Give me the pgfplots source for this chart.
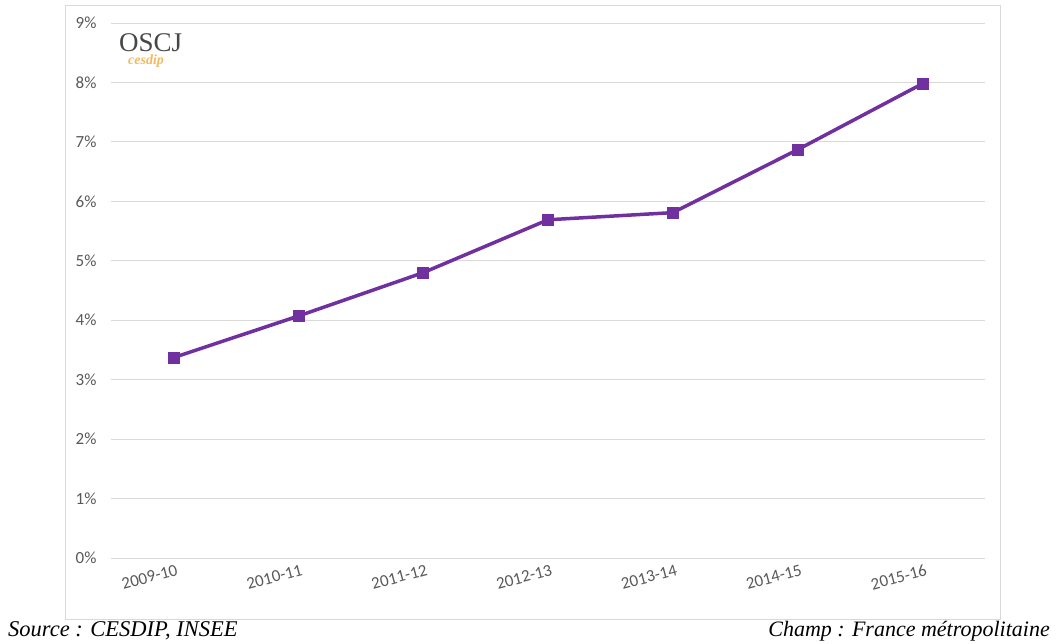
\documentclass[border=0pt]{standalone}
\usepackage{pgfplots}
\pgfplotsset{compat=1.18}
\usepackage{fontspec}
\setmainfont{Carlito}
\newfontfamily\timesf{Liberation Serif}
\definecolor{linecol}{HTML}{7030A0}
\definecolor{gridc}{HTML}{D9D9D9}
\definecolor{tickc}{HTML}{595959}
\definecolor{logoor}{HTML}{F4B860}
\begin{document}
\begin{tikzpicture}[x=1pt,y=1pt]
\path[use as bounding box] (0,0) rectangle (1057,643);
\draw[gridc, line width=1pt] (65,24) rectangle (1000,637);
\begin{axis}[
  at={(111pt,85pt)}, anchor=south west,
  scale only axis, width=874pt, height=535pt,
  xmin=-0.5, xmax=6.5, ymin=0, ymax=9,
  xtick={0,...,6},
  xticklabels={2009-10,2010-11,2011-12,2012-13,2013-14,2014-15,2015-16},
  ytick={0,...,9},
  yticklabel={\pgfmathprintnumber{\tick}\%},
  /pgf/number format/assume math mode=true,
  ymajorgrids, grid style={gridc, line width=0.8pt},
  axis line style={draw=none},
  major tick length=0pt,
  tick label style={font=\fontsize{17}{19}\selectfont, text=tickc},
  x tick label style={rotate=15, anchor=north east, yshift=-3pt, xshift=4pt},
  y tick label style={xshift=-11pt},
  clip=false,
]
\addplot[linecol, line width=3.5pt, mark=square*, mark size=5.5pt, mark options={fill=linecol, draw=linecol, line width=0.5pt}]
coordinates {(0,3.37) (1,4.07) (2,4.80) (3,5.69) (4,5.81) (5,6.87) (6,7.98)};
\end{axis}
\node[anchor=base west, inner sep=0pt, text=black!72, font={\timesf\fontsize{27}{29}\selectfont}] at (119,591) {OSCJ};
\node[anchor=base west, inner sep=0pt, text=logoor, font={\timesf\itshape\bfseries\fontsize{14}{16}\selectfont}] at (128,578) {cesdip};
\node[anchor=base west, inner sep=0pt, font={\timesf\itshape\fontsize{22.5}{24}\selectfont}] at (8,7) {Source : CESDIP, INSEE};
\node[anchor=base east, inner sep=0pt, font={\timesf\itshape\fontsize{22}{24}\selectfont}] at (1050,7) {Champ : France métropolitaine};
\end{tikzpicture}
\end{document}
